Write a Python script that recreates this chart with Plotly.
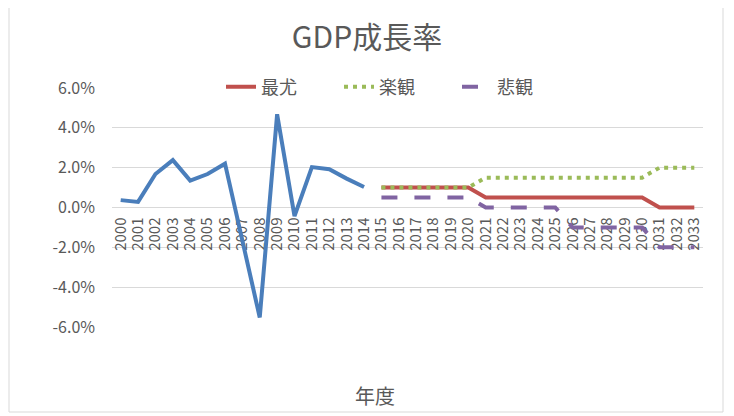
import plotly.graph_objects as go

years = [str(y) for y in range(2000, 2034)]
actual_years = years[:15]
actual = [0.37, 0.28, 1.68, 2.38, 1.35, 1.68, 2.2, -1.6, -5.52, 4.68, -0.43, 2.03, 1.92, 1.45, 1.03]
scen_years = years[15:]
likely = [1.0, 1.0, 1.0, 1.0, 1.0, 1.0, 0.5, 0.5, 0.5, 0.5, 0.5, 0.5, 0.5, 0.5, 0.5, 0.5, 0.0, 0.0, 0.0]
optimistic = [1.0, 1.0, 1.0, 1.0, 1.0, 1.0, 1.5, 1.5, 1.5, 1.5, 1.5, 1.5, 1.5, 1.5, 1.5, 1.5, 2.0, 2.0, 2.0]
pessimistic = [0.5, 0.5, 0.5, 0.5, 0.5, 0.5, 0.0, 0.0, 0.0, 0.0, 0.0, -1.0, -1.0, -1.0, -1.0, -1.0, -2.0, -2.0, -2.0]
y_tickvals = [-6, -4, -2, 0, 2, 4, 6]
y_ticktext = ["-6.0%", "-4.0%", "-2.0%", "0.0%", "2.0%", "4.0%", "6.0%"]

grey = "#595959"
font = "Noto Sans CJK JP"

# page offset from default body margin
OFF = 8
W, H = 734 - OFF, 416 - OFF
PL, PR, PT, PB = 112, 703, 88, 327  # plot area in page pixels


def px(xp):
    return (xp - PL) / (PR - PL)


def py(yp):
    return (PB - yp) / (PB - PT)


fig = go.Figure()
fig.add_trace(go.Scatter(x=actual_years, y=actual, mode="lines", name="実績",
                         line=dict(color="#4A7EBB", width=4), showlegend=False))
fig.add_trace(go.Scatter(x=scen_years, y=likely, mode="lines", name="最尤",
                         line=dict(color="#C0504D", width=4)))
fig.add_trace(go.Scatter(x=scen_years, y=optimistic, mode="lines", name="楽観",
                         line=dict(color="#9BBB59", width=4, dash="4px,5px")))
fig.add_trace(go.Scatter(x=scen_years, y=pessimistic, mode="lines", name="悲観",
                         line=dict(color="#8064A2", width=4, dash="16px,17px")))

fig.update_layout(
    width=W, height=H,
    margin=dict(l=PL - OFF, r=W - (PR - OFF), t=PT - OFF, b=H - (PB - OFF)),
    paper_bgcolor="white", plot_bgcolor="white",
    font=dict(family=font, color=grey),
    title=dict(text="GDP成長率", x=px(367), xref="paper", xanchor="center",
               y=1 - (37 - OFF) / H, yanchor="middle",
               font=dict(size=30, color=grey, family=font)),
    legend=dict(orientation="h", x=px(221), xanchor="left",
                y=py(87), yanchor="middle",
                font=dict(size=18, color=grey, family=font),
                entrywidth=73, entrywidthmode="pixels",
                bgcolor="rgba(0,0,0,0)"),
    xaxis=dict(type="category", categoryorder="array", categoryarray=years,
               tickmode="linear", tick0=0, dtick=1,
               anchor="free", position=0.5, tickangle=-90,
               showgrid=False, showline=False, ticks="",
               ticklabelstandoff=6,
               tickfont=dict(size=15, color=grey, family=font),
               layer="below traces", range=[-0.5, len(years) - 0.5]),
    yaxis=dict(range=[-6, 6], tickvals=y_tickvals, ticktext=y_ticktext,
               showgrid=True, gridcolor="#D9D9D9", gridwidth=1,
               zeroline=False, showline=False, ticks="",
               ticklabelstandoff=16,
               tickfont=dict(size=16, color=grey, family=font)),
    annotations=[dict(text="年度", xref="paper", yref="paper",
                      x=px(375), y=py(395),
                      xanchor="center", yanchor="middle", showarrow=False,
                      font=dict(size=20, color=grey, family=font))],
    shapes=[dict(type="rect", xref="paper", yref="paper",
                 x0=px(9), x1=px(723), y0=py(412), y1=py(1),
                 line=dict(color="#D9D9D9", width=1), layer="below")],
)

fig.write_html("out.html")
